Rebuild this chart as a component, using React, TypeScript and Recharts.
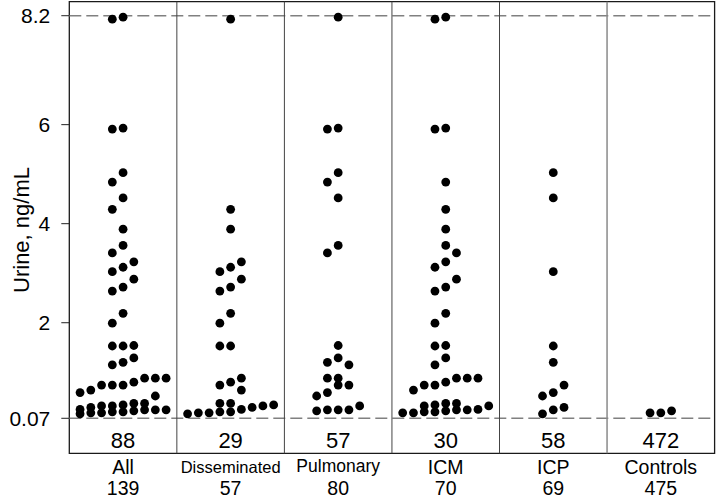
import { ScatterChart, Scatter, XAxis, YAxis, ReferenceLine, ReferenceArea, Label } from "recharts";

// urine antigen values above the 0.07 ng/mL limit
const disseminated = [8.13, 4.29, 3.89, 3.23, 3.12, 3.03, 2.88, 2.72, 2.64, 2.19, 1.99, 1.53, 1.53, 0.88, 0.8, 0.74, 0.64, 0.37, 0.37, 0.34, 0.32, 0.29, 0.25, 0.2, 0.2, 0.18, 0.18, 0.16];
const pulmonary = [8.17, 5.93, 5.91, 5.03, 4.84, 4.52, 3.56, 3.41, 1.54, 1.29, 1.2, 1.15, 0.88, 0.88, 0.74, 0.74, 0.59, 0.52, 0.32, 0.24, 0.24, 0.24, 0.22];
const icm = [8.17, 8.13, 5.93, 5.91, 4.84, 4.29, 3.89, 3.56, 3.41, 3.23, 3.12, 2.88, 2.72, 2.64, 2.19, 1.99, 1.54, 1.53, 1.29, 1.15, 0.88, 0.88, 0.88, 0.8, 0.74, 0.74, 0.64, 0.37, 0.37, 0.34, 0.32, 0.32, 0.25, 0.24, 0.24, 0.22, 0.2, 0.2, 0.18, 0.18];
const icp = [5.03, 4.52, 3.03, 1.53, 1.2, 0.74, 0.59, 0.52, 0.29, 0.24, 0.16];
const controls = [0.18, 0.18, 0.22];
const all = [...disseminated, ...pulmonary];

const groups = ["All", "Disseminated", "Pulmonary", "ICM", "ICP", "Controls"];
const belowLimit = [88, 29, 57, 30, 58, 472];
const totals = [139, 57, 80, 70, 69, 475];
const yTicks = [0.07, 2, 4, 6, 8.2];

const series = [all, disseminated, pulmonary, icm, icp, controls];

const FONT = "'Liberation Sans', Arial, Helvetica, sans-serif";
const Y_MIN = -0.637;
const Y_MAX = 8.483;
const BIN = 0.3;
const COL = 0.1;
const MAX_ROW = 9;

// simple centred-bin beeswarm: nearby values share a row, spread sideways in ascending order
function swarm(values: number[], center: number) {
  const sorted = [...values].sort((a, b) => a - b);
  const out: { x: number; y: number }[] = [];
  let i = 0;
  while (i < sorted.length) {
    const start = sorted[i];
    const row: number[] = [];
    while (i < sorted.length && row.length < MAX_ROW && sorted[i] - start < BIN) {
      row.push(sorted[i]);
      i++;
    }
    const half = Math.floor(row.length / 2);
    row.forEach((v, k) => out.push({ x: center + (k - half) * COL, y: v }));
  }
  return out;
}

const points = series.flatMap((vals, i) => swarm(vals, i + 0.5));

const nameStyle = [
  { size: 19.5, dy: 20.5 },
  { size: 16.5, dy: 20 },
  { size: 17.5, dy: 19 },
  { size: 19.5, dy: 20.5 },
  { size: 19.5, dy: 20.5 },
  { size: 19.5, dy: 20.5 },
];

function GroupTick(props: any) {
  const { x, y, payload } = props;
  const i = Math.floor(payload.value);
  return (
    <g fontFamily={FONT} fill="#000" textAnchor="middle">
      <text x={x} y={y - 5} fontSize={22}>{belowLimit[i]}</text>
      <text x={x} y={y + nameStyle[i].dy} fontSize={nameStyle[i].size}>{groups[i]}</text>
      <text x={x} y={y + 41.5} fontSize={19.5}>{totals[i]}</text>
    </g>
  );
}

const Dot = (props: any) => <circle cx={props.cx} cy={props.cy} r={4.4} fill="#000" />;

export default function App() {
  return (
    <div style={{ position: "absolute", left: 0, top: 0, width: 717, height: 499, background: "#fff" }}>
      <ScatterChart width={717} height={499} margin={{ top: 1.7, right: 2.4, bottom: 0, left: 0 }}>
        <XAxis
          dataKey="x"
          type="number"
          domain={[0, 6]}
          ticks={[0.5, 1.5, 2.5, 3.5, 4.5, 5.5]}
          allowDataOverflow
          axisLine={false}
          tickLine={false}
          tickSize={0}
          tickMargin={0}
          height={45.7}
          tick={<GroupTick />}
          interval={0}
        />
        <YAxis
          dataKey="y"
          type="number"
          domain={[Y_MIN, Y_MAX]}
          ticks={yTicks}
          allowDataOverflow
          width={69.3}
          axisLine={false}
          tickSize={8}
          tickMargin={11}
          tickLine={{ stroke: "#222" }}
          tick={{ fill: "#000", fontSize: 21, fontFamily: FONT }}
          tickFormatter={(v) => String(v)}
          interval={0}
        >
          <Label
            content={() => (
              <text
                x={21}
                y={230}
                transform="rotate(-90, 21, 230)"
                textAnchor="middle"
                dominantBaseline="central"
                fontSize={22}
                fontFamily={FONT}
                fill="#000"
              >
                Urine, ng/mL
              </text>
            )}
          />
        </YAxis>
        <ReferenceLine y={8.2} stroke="#808080" strokeWidth={1.5} strokeDasharray="12 5" />
        <ReferenceLine y={0.07} stroke="#808080" strokeWidth={1.5} strokeDasharray="12 5" />
        {[1, 2, 3, 4].map((k) => (
          <ReferenceLine key={k} x={k} stroke="#444" strokeWidth={1} />
        ))}
        <ReferenceLine x={5} stroke="#8a8a8a" strokeWidth={1.5} />
        <ReferenceArea x1={0} x2={6} y1={Y_MIN} y2={Y_MAX} fill="none" stroke="#1a1a1a" strokeWidth={1.3} ifOverflow="visible" />
        <Scatter data={points} shape={<Dot />} isAnimationActive={false} />
      </ScatterChart>
    </div>
  );
}
